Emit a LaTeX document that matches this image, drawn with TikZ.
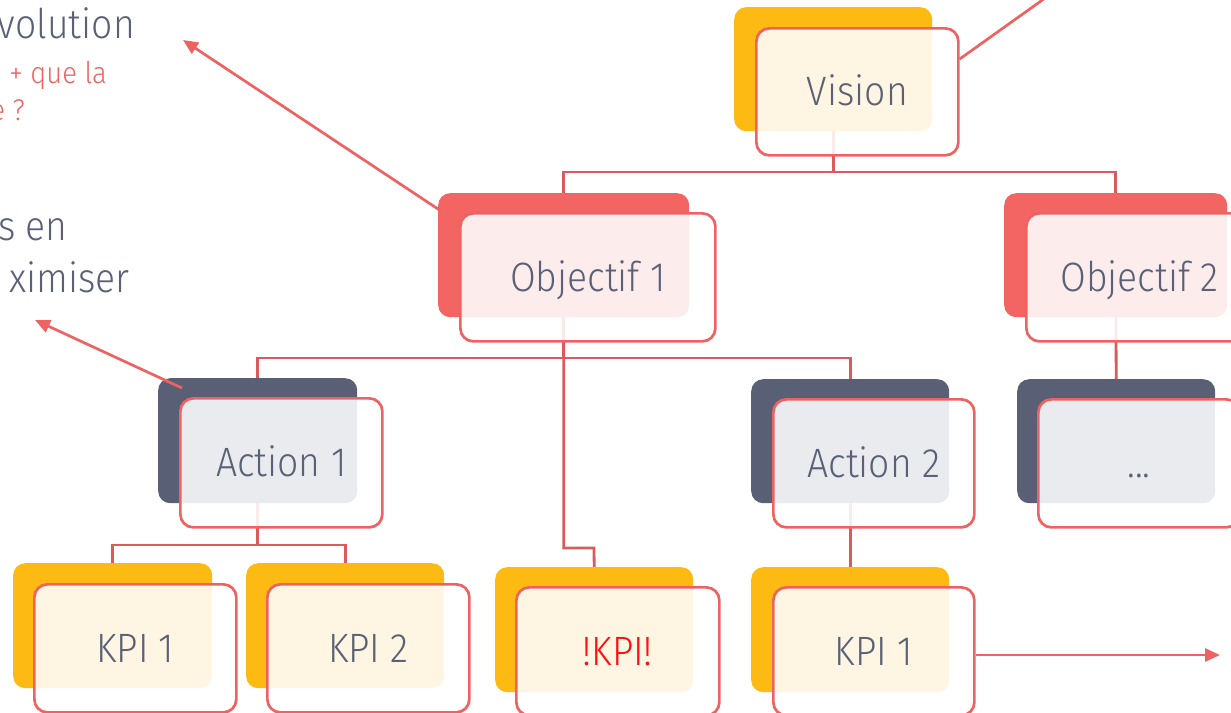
\documentclass[tikz,border=0pt]{standalone}
\usepackage{fontspec}
\setmainfont{Fira Sans Light}[FakeStretch=0.91]
\usetikzlibrary{arrows.meta,backgrounds,calc}
\definecolor{cyel}{HTML}{FDBA12}
\definecolor{cred}{HTML}{F26563}
\definecolor{cslate}{HTML}{596075}
\definecolor{cline}{HTML}{EF6262}
\definecolor{ctree}{HTML}{D95B5B}
\definecolor{ctext}{HTML}{5A6176}
\definecolor{ckpi}{HTML}{FF1010}
\tikzset{
  backbox/.style={rounded corners=12pt, inner sep=0pt, anchor=north west, draw=none},
  frontbox/.style={rounded corners=13pt, inner sep=0pt, anchor=north west, draw=cline,
    line width=2.7pt, fill=white, fill opacity=0.88, text opacity=1, text=ctext,
    text height=28pt, text depth=0pt,
    font=\fontsize{41}{48}\selectfont},
  tree/.style={draw=ctree, line width=2.8pt},
  arr/.style={draw=cline, line width=2.7pt, -{Triangle[length=15pt,width=13pt]}},
  sidetext/.style={anchor=base east, inner sep=0pt, text=ctext, font=\fontsize{41}{48}\selectfont},
  sidered/.style={anchor=base east, inner sep=0pt, text=cline, font=\fontsize{30}{34}\selectfont}
}
\begin{document}
\begin{tikzpicture}[x=1pt,y=-1pt]
\useasboundingbox (0,0) rectangle (1231,712);

% side texts (cut off at the left edge)
\node[sidetext] (s1) at (135,38) {volution};
\node[sidered] (s2) at (107,83) {+ que la};
\node[sidered] (s3) at (25,120) {e ?};
\node[sidetext] (s4) at (68,240) {s en};
\node[sidetext] (s5) at (130,292) {ximiser};

% Vision
\node[backbox, fill=cyel, minimum width=198pt, minimum height=124pt] (visS) at (734,7) {};
\node[frontbox, minimum width=202pt, minimum height=127pt] (visO) at (755,27) {Vision};
% Objectif 1
\node[backbox, fill=cred, minimum width=251pt, minimum height=124pt] (ob1S) at (438,193) {};
\node[frontbox, minimum width=255pt, minimum height=128pt] (ob1O) at (459,212) {Objectif 1};
% Objectif 2
\node[backbox, fill=cred, minimum width=223pt, minimum height=124pt] (ob2S) at (1004,193) {};
\node[frontbox, minimum width=226pt, minimum height=128pt] (ob2O) at (1025,212) {Objectif 2};
% Action 1
\node[backbox, fill=cslate, minimum width=199pt, minimum height=125pt] (a1S) at (158,378) {};
\node[frontbox, minimum width=202pt, minimum height=129pt] (a1O) at (179,397) {Action 1};
% Action 2
\node[backbox, fill=cslate, minimum width=198pt, minimum height=124pt] (a2S) at (751,379) {};
\node[frontbox, minimum width=201pt, minimum height=128pt] (a2O) at (772,398) {Action 2};
% ...
\node[backbox, fill=cslate, minimum width=198pt, minimum height=124pt] (dS) at (1017,379) {};
\node[frontbox, minimum width=201pt, minimum height=128pt] (dO) at (1037,398) {...};
% KPIs
\node[backbox, fill=cyel, minimum width=199pt, minimum height=125pt] (k1S) at (13,563) {};
\node[frontbox, minimum width=202pt, minimum height=128pt] (k1O) at (33,583) {KPI 1};
\node[backbox, fill=cyel, minimum width=198pt, minimum height=125pt] (k2S) at (246,563) {};
\node[frontbox, minimum width=202pt, minimum height=128pt] (k2O) at (266,583) {KPI 2};
\node[backbox, fill=cyel, minimum width=198pt, minimum height=125pt] (k3S) at (495,567) {};
\node[frontbox, minimum width=203pt, minimum height=128pt, text=ckpi] (k3O) at (515,586) {!KPI!};
\node[backbox, fill=cyel, minimum width=198pt, minimum height=125pt] (k4S) at (751,567) {};
\node[frontbox, minimum width=201pt, minimum height=128pt] (k4O) at (772,586) {KPI 1};

% tree connectors behind the boxes
\coordinate (j1) at (833,172);
\coordinate (j2) at (564,358);
\coordinate (j3) at (594,548);
\coordinate (j4) at (258,545);
\begin{pgfonlayer}{background}
\draw[tree] (visS.center) -- (visS.center |- j1) -| (ob1S.north);
\draw[tree] (visS.center |- j1) -| (ob2S.north);
\draw[tree] (ob1S.center) -- (ob1S.center |- j2) -| (a1S.north);
\draw[tree] (ob1S.center |- j2) -| (a2S.north);
\draw[tree] (ob1S.center) |- (j3) -- (k3S.north);
\draw[tree] (ob2S.center) -- (dS.north);
\draw[tree] (a1S.center) -- (a1S.center |- j4) -| (k1S.north);
\draw[tree] (a1S.center |- j4) -| (k2S.north);
\draw[tree] (a2S.center) -- (k4S.north);
\end{pgfonlayer}

% arrows
\coordinate (t1) at (183,40);
\coordinate (t2) at (35,320);
\coordinate (t3) at (1062,-14);
\coordinate (t4) at (1220,655);
\draw[arr] ($(ob1S.north west)+(3,18)$) -- (t1);
\draw[arr] ($(a1S.north west)+(24,10)$) -- (t2);
\draw[draw=cline, line width=2.7pt] ($(visO.north east)+(0,32)$) -- (t3);
\draw[arr] (k4O.east |- t4) -- (t4);
\end{tikzpicture}
\end{document}
